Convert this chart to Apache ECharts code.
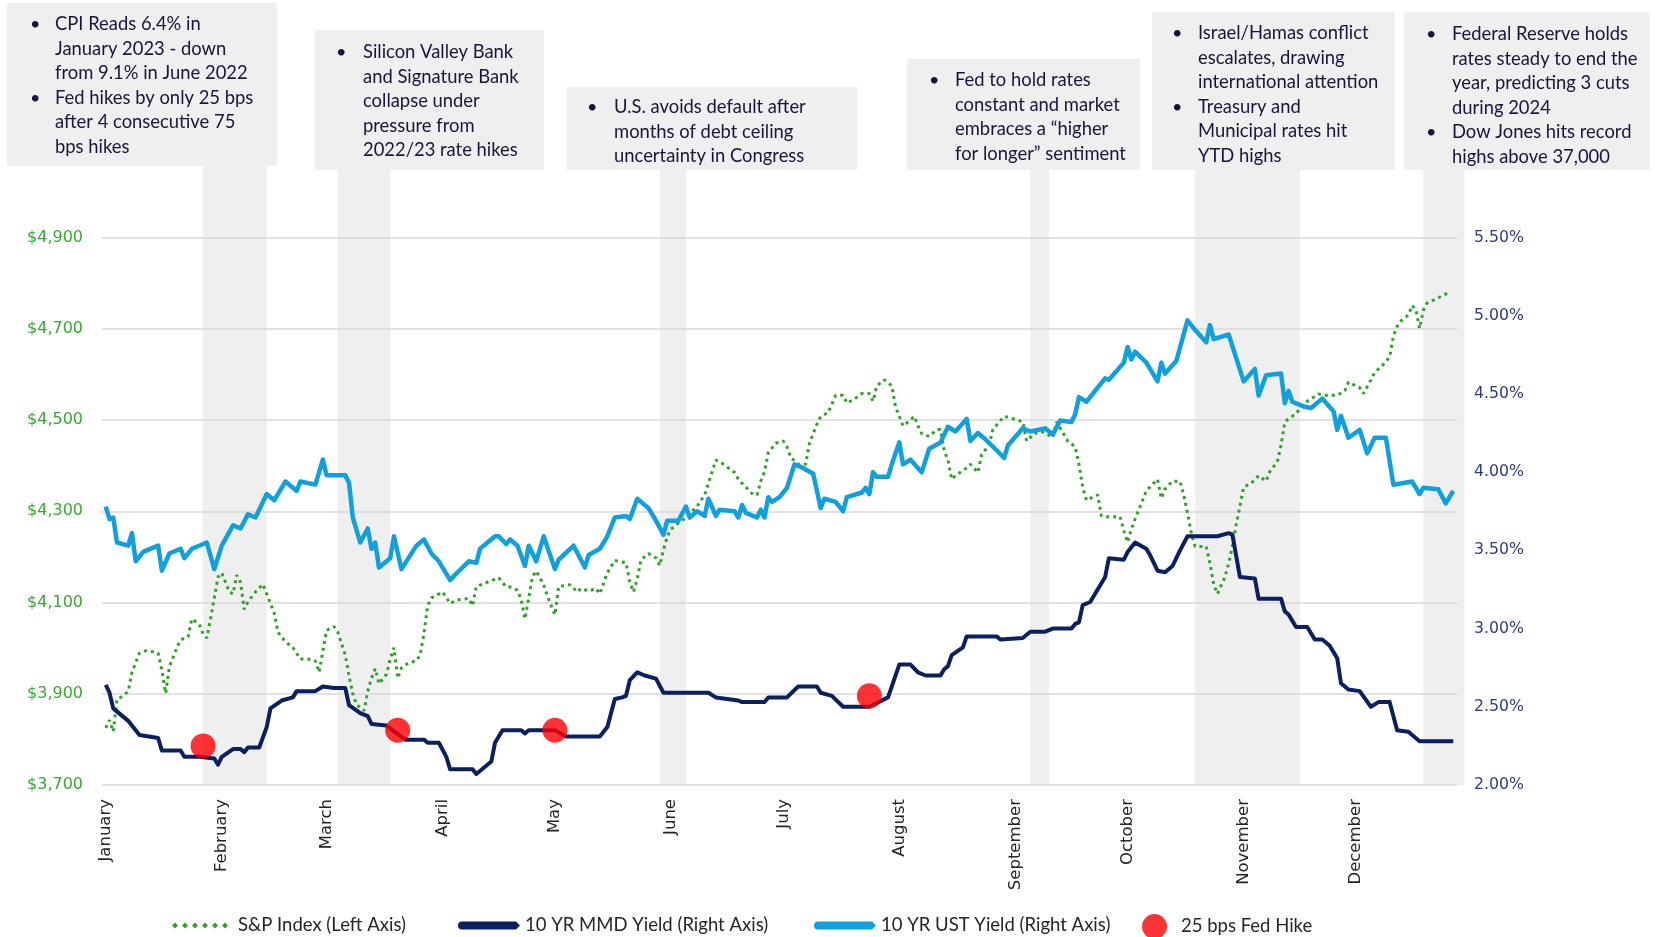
<!DOCTYPE html>
<html>
<head>
<meta charset="utf-8">
<script src="https://cdn.jsdelivr.net/npm/echarts@6/dist/echarts.min.js"></script>
<style>
  html, body { margin: 0; padding: 0; background: #fff; }
  #chart { width: 1655px; height: 937px; }
</style>
</head>
<body>
<div id="chart"></div>
<script>
var monthNames = ['January', 'February', 'March', 'April', 'May', 'June', 'July',
    'August', 'September', 'October', 'November', 'December'];

// S&P 500 index (left axis)
var spIndex = [
    ['2023-01-01', 3825], ['2023-01-02', 3842], ['2023-01-03', 3817], ['2023-01-04', 3888], ['2023-01-05', 3892],
    ['2023-01-07', 3905], ['2023-01-08', 3947], ['2023-01-10', 3989], ['2023-01-12', 3995], ['2023-01-15', 3989],
    ['2023-01-16', 3951], ['2023-01-17', 3901], ['2023-01-18', 3959], ['2023-01-19', 3980], ['2023-01-20', 4001],
    ['2023-01-21', 4018], ['2023-01-23', 4025], ['2023-01-24', 4064], ['2023-01-26', 4052], ['2023-01-27', 4031],
    ['2023-01-28', 4022], ['2023-01-29', 4064], ['2023-01-30', 4110], ['2023-01-31', 4156], ['2023-02-01', 4165],
    ['2023-02-03', 4123], ['2023-02-04', 4119], ['2023-02-05', 4160], ['2023-02-06', 4144], ['2023-02-07', 4085],
    ['2023-02-08', 4102], ['2023-02-10', 4123], ['2023-02-12', 4140], ['2023-02-13', 4119], ['2023-02-15', 4077],
    ['2023-02-16', 4035], ['2023-02-18', 4014], ['2023-02-20', 4001], ['2023-02-22', 3976], ['2023-02-24', 3976],
    ['2023-02-26', 3972], ['2023-02-27', 3947], ['2023-02-28', 3993], ['2023-03-01', 4039], ['2023-03-03', 4047],
    ['2023-03-04', 4035], ['2023-03-05', 4010], ['2023-03-06', 3985], ['2023-03-07', 3939], ['2023-03-08', 3900],
    ['2023-03-09', 3876], ['2023-03-11', 3863], ['2023-03-12', 3905], ['2023-03-13', 3934], ['2023-03-14', 3955],
    ['2023-03-15', 3922], ['2023-03-17', 3943], ['2023-03-18', 3976], ['2023-03-19', 4001], ['2023-03-20', 3934],
    ['2023-03-21', 3957], ['2023-03-23', 3968], ['2023-03-25', 3972], ['2023-03-26', 3985], ['2023-03-27', 4031],
    ['2023-03-28', 4093], ['2023-03-29', 4110], ['2023-04-01', 4123], ['2023-04-03', 4098], ['2023-04-05', 4106],
    ['2023-04-08', 4109], ['2023-04-09', 4093], ['2023-04-10', 4135], ['2023-04-14', 4148], ['2023-04-16', 4154],
    ['2023-04-18', 4134], ['2023-04-19', 4134], ['2023-04-21', 4127], ['2023-04-22', 4106], ['2023-04-23', 4064],
    ['2023-04-24', 4110], ['2023-04-25', 4156], ['2023-04-26', 4169], ['2023-04-28', 4139], ['2023-04-29', 4114],
    ['2023-04-30', 4093], ['2023-05-01', 4073], ['2023-05-02', 4135], ['2023-05-05', 4139], ['2023-05-07', 4123],
    ['2023-05-08', 4131], ['2023-05-10', 4125], ['2023-05-12', 4131], ['2023-05-13', 4119], ['2023-05-15', 4165],
    ['2023-05-17', 4192], ['2023-05-20', 4187], ['2023-05-21', 4144], ['2023-05-22', 4123], ['2023-05-23', 4152],
    ['2023-05-24', 4194], ['2023-05-26', 4207], ['2023-05-28', 4198], ['2023-05-29', 4181], ['2023-05-30', 4215],
    ['2023-05-31', 4244], ['2023-06-01', 4261], ['2023-06-03', 4274], ['2023-06-05', 4286], ['2023-06-08', 4311],
    ['2023-06-10', 4336], ['2023-06-11', 4361], ['2023-06-13', 4412], ['2023-06-14', 4409], ['2023-06-16', 4397],
    ['2023-06-18', 4385], ['2023-06-19', 4370], ['2023-06-21', 4353], ['2023-06-23', 4336], ['2023-06-24', 4336],
    ['2023-06-25', 4366], ['2023-06-26', 4387], ['2023-06-27', 4428], ['2023-06-29', 4449], ['2023-07-01', 4454],
    ['2023-07-02', 4441], ['2023-07-03', 4418], ['2023-07-05', 4403], ['2023-07-07', 4403], ['2023-07-08', 4449],
    ['2023-07-09', 4470], ['2023-07-10', 4491], ['2023-07-11', 4508], ['2023-07-13', 4516], ['2023-07-15', 4554],
    ['2023-07-17', 4554], ['2023-07-18', 4537], ['2023-07-20', 4546], ['2023-07-22', 4558], ['2023-07-24', 4558],
    ['2023-07-25', 4541], ['2023-07-26', 4575], ['2023-07-28', 4588], ['2023-07-30', 4575], ['2023-07-31', 4529],
    ['2023-08-01', 4508], ['2023-08-02', 4487], ['2023-08-04', 4500], ['2023-08-05', 4508], ['2023-08-06', 4487],
    ['2023-08-07', 4470], ['2023-08-09', 4464], ['2023-08-11', 4479], ['2023-08-12', 4479], ['2023-08-13', 4433],
    ['2023-08-14', 4412], ['2023-08-15', 4370], ['2023-08-16', 4378], ['2023-08-19', 4395], ['2023-08-20', 4403],
    ['2023-08-22', 4385], ['2023-08-23', 4424], ['2023-08-25', 4445], ['2023-08-26', 4479], ['2023-08-29', 4508],
    ['2023-08-31', 4504], ['2023-09-03', 4496], ['2023-09-04', 4454], ['2023-09-06', 4470], ['2023-09-08', 4475],
    ['2023-09-11', 4462], ['2023-09-12', 4496], ['2023-09-15', 4454], ['2023-09-17', 4441], ['2023-09-18', 4403],
    ['2023-09-19', 4353], ['2023-09-20', 4324], ['2023-09-23', 4336], ['2023-09-24', 4290], ['2023-09-25', 4288],
    ['2023-09-29', 4288], ['2023-09-30', 4257], ['2023-10-01', 4232], ['2023-10-02', 4261], ['2023-10-03', 4283],
    ['2023-10-05', 4324], ['2023-10-06', 4345], ['2023-10-09', 4370], ['2023-10-10', 4328], ['2023-10-11', 4349],
    ['2023-10-13', 4366], ['2023-10-15', 4366], ['2023-10-16', 4336], ['2023-10-17', 4296], ['2023-10-18', 4253],
    ['2023-10-19', 4223], ['2023-10-22', 4223], ['2023-10-23', 4186], ['2023-10-24', 4140], ['2023-10-25', 4119],
    ['2023-10-27', 4156], ['2023-10-28', 4186], ['2023-10-29', 4223], ['2023-10-30', 4270], ['2023-10-31', 4311],
    ['2023-11-01', 4353], ['2023-11-03', 4361], ['2023-11-05', 4378], ['2023-11-07', 4366], ['2023-11-08', 4387],
    ['2023-11-10', 4408], ['2023-11-11', 4445], ['2023-11-12', 4496], ['2023-11-14', 4508], ['2023-11-16', 4523],
    ['2023-11-18', 4541], ['2023-11-21', 4557], ['2023-11-23', 4554], ['2023-11-26', 4554], ['2023-11-28', 4564],
    ['2023-11-29', 4583], ['2023-12-02', 4571], ['2023-12-03', 4558], ['2023-12-05', 4588], ['2023-12-06', 4604],
    ['2023-12-08', 4619], ['2023-12-10', 4638], ['2023-12-11', 4684], ['2023-12-12', 4705], ['2023-12-13', 4717],
    ['2023-12-15', 4730], ['2023-12-16', 4751], ['2023-12-17', 4742], ['2023-12-18', 4701], ['2023-12-19', 4740],
    ['2023-12-20', 4756], ['2023-12-23', 4768], ['2023-12-26', 4780]
];

// 10 YR MMD yield, % (right axis)
var mmdYield = [
    ['2023-01-01', 2.64], ['2023-01-02', 2.59], ['2023-01-03', 2.49], ['2023-01-07', 2.41], ['2023-01-08', 2.38],
    ['2023-01-10', 2.32], ['2023-01-15', 2.30], ['2023-01-16', 2.22], ['2023-01-21', 2.22], ['2023-01-22', 2.18],
    ['2023-01-26', 2.18], ['2023-01-30', 2.17], ['2023-01-31', 2.13], ['2023-02-01', 2.18], ['2023-02-04', 2.23],
    ['2023-02-06', 2.23], ['2023-02-07', 2.21], ['2023-02-08', 2.24], ['2023-02-11', 2.24], ['2023-02-13', 2.37],
    ['2023-02-14', 2.49], ['2023-02-17', 2.54], ['2023-02-20', 2.56], ['2023-02-21', 2.60], ['2023-02-26', 2.60],
    ['2023-02-28', 2.63], ['2023-03-03', 2.62], ['2023-03-06', 2.62], ['2023-03-07', 2.51], ['2023-03-10', 2.46],
    ['2023-03-12', 2.44], ['2023-03-13', 2.39], ['2023-03-17', 2.38], ['2023-03-22', 2.29], ['2023-03-27', 2.29],
    ['2023-03-28', 2.27], ['2023-03-31', 2.27], ['2023-04-02', 2.18], ['2023-04-03', 2.10], ['2023-04-09', 2.10],
    ['2023-04-10', 2.07], ['2023-04-12', 2.11], ['2023-04-14', 2.15], ['2023-04-15', 2.27], ['2023-04-17', 2.35],
    ['2023-04-22', 2.35], ['2023-04-23', 2.33], ['2023-04-24', 2.35], ['2023-05-01', 2.35], ['2023-05-04', 2.31],
    ['2023-05-13', 2.31], ['2023-05-15', 2.37], ['2023-05-17', 2.55], ['2023-05-19', 2.56], ['2023-05-20', 2.57],
    ['2023-05-21', 2.67], ['2023-05-23', 2.72], ['2023-05-25', 2.70], ['2023-05-28', 2.68], ['2023-05-30', 2.59],
    ['2023-06-11', 2.59], ['2023-06-13', 2.56], ['2023-06-16', 2.55], ['2023-06-19', 2.54], ['2023-06-20', 2.53],
    ['2023-06-26', 2.53], ['2023-06-27', 2.56], ['2023-07-02', 2.56], ['2023-07-05', 2.63], ['2023-07-10', 2.63],
    ['2023-07-11', 2.59], ['2023-07-14', 2.57], ['2023-07-17', 2.50], ['2023-07-24', 2.50], ['2023-07-29', 2.56],
    ['2023-08-01', 2.77], ['2023-08-04', 2.77], ['2023-08-06', 2.72], ['2023-08-08', 2.70], ['2023-08-12', 2.70],
    ['2023-08-13', 2.74], ['2023-08-14', 2.76], ['2023-08-15', 2.83], ['2023-08-18', 2.88], ['2023-08-19', 2.95],
    ['2023-08-27', 2.95], ['2023-08-28', 2.93], ['2023-09-03', 2.94], ['2023-09-05', 2.98], ['2023-09-09', 2.98],
    ['2023-09-11', 3.00], ['2023-09-16', 3.00], ['2023-09-17', 3.03], ['2023-09-18', 3.04], ['2023-09-19', 3.15],
    ['2023-09-21', 3.17], ['2023-09-23', 3.25], ['2023-09-25', 3.33], ['2023-09-26', 3.45], ['2023-09-30', 3.44],
    ['2023-10-01', 3.49], ['2023-10-03', 3.55], ['2023-10-06', 3.51], ['2023-10-07', 3.47], ['2023-10-09', 3.37],
    ['2023-10-11', 3.36], ['2023-10-13', 3.40], ['2023-10-15', 3.50], ['2023-10-17', 3.59], ['2023-10-25', 3.59],
    ['2023-10-28', 3.61], ['2023-10-29', 3.60], ['2023-10-31', 3.33], ['2023-11-04', 3.32], ['2023-11-05', 3.19],
    ['2023-11-11', 3.19], ['2023-11-12', 3.11], ['2023-11-13', 3.09], ['2023-11-15', 3.01], ['2023-11-18', 3.01],
    ['2023-11-20', 2.93], ['2023-11-22', 2.93], ['2023-11-24', 2.89], ['2023-11-26', 2.81], ['2023-11-27', 2.65],
    ['2023-11-29', 2.61], ['2023-12-02', 2.60], ['2023-12-05', 2.50], ['2023-12-07', 2.53], ['2023-12-10', 2.53],
    ['2023-12-12', 2.35], ['2023-12-15', 2.34], ['2023-12-18', 2.28], ['2023-12-27', 2.28]
];

// 10 YR UST yield, % (right axis)
var ustYield = [
    ['2023-01-01', 3.78], ['2023-01-02', 3.70], ['2023-01-03', 3.71], ['2023-01-04', 3.55], ['2023-01-07', 3.53],
    ['2023-01-08', 3.61], ['2023-01-09', 3.43], ['2023-01-11', 3.49], ['2023-01-15', 3.53], ['2023-01-16', 3.37],
    ['2023-01-18', 3.48], ['2023-01-21', 3.51], ['2023-01-22', 3.45], ['2023-01-24', 3.51], ['2023-01-28', 3.55],
    ['2023-01-30', 3.38], ['2023-02-01', 3.53], ['2023-02-04', 3.66], ['2023-02-06', 3.64], ['2023-02-08', 3.73],
    ['2023-02-10', 3.71], ['2023-02-13', 3.86], ['2023-02-15', 3.82], ['2023-02-18', 3.94], ['2023-02-21', 3.88],
    ['2023-02-22', 3.94], ['2023-02-26', 3.92], ['2023-02-28', 4.08], ['2023-03-01', 3.98], ['2023-03-06', 3.98],
    ['2023-03-07', 3.93], ['2023-03-08', 3.71], ['2023-03-10', 3.55], ['2023-03-12', 3.64], ['2023-03-13', 3.51],
    ['2023-03-14', 3.55], ['2023-03-15', 3.39], ['2023-03-18', 3.45], ['2023-03-19', 3.59], ['2023-03-21', 3.38],
    ['2023-03-25', 3.53], ['2023-03-27', 3.57], ['2023-03-29', 3.48], ['2023-03-31', 3.43], ['2023-04-03', 3.31],
    ['2023-04-05', 3.36], ['2023-04-08', 3.43], ['2023-04-10', 3.42], ['2023-04-11', 3.51], ['2023-04-15', 3.59],
    ['2023-04-16', 3.59], ['2023-04-18', 3.54], ['2023-04-19', 3.57], ['2023-04-21', 3.53], ['2023-04-23', 3.40],
    ['2023-04-24', 3.53], ['2023-04-26', 3.43], ['2023-04-28', 3.59], ['2023-05-01', 3.38], ['2023-05-02', 3.44],
    ['2023-05-06', 3.53], ['2023-05-09', 3.39], ['2023-05-10', 3.47], ['2023-05-13', 3.51], ['2023-05-15', 3.59],
    ['2023-05-17', 3.71], ['2023-05-20', 3.72], ['2023-05-21', 3.70], ['2023-05-23', 3.83], ['2023-05-26', 3.77],
    ['2023-05-28', 3.69], ['2023-05-30', 3.60], ['2023-05-31', 3.69], ['2023-06-03', 3.69], ['2023-06-05', 3.78],
    ['2023-06-06', 3.71], ['2023-06-08', 3.75], ['2023-06-10', 3.72], ['2023-06-11', 3.83], ['2023-06-13', 3.72],
    ['2023-06-14', 3.76], ['2023-06-18', 3.75], ['2023-06-19', 3.71], ['2023-06-20', 3.79], ['2023-06-21', 3.74],
    ['2023-06-24', 3.71], ['2023-06-25', 3.76], ['2023-06-26', 3.71], ['2023-06-27', 3.84], ['2023-06-28', 3.81],
    ['2023-06-30', 3.84], ['2023-07-02', 3.90], ['2023-07-04', 4.05], ['2023-07-06', 4.03], ['2023-07-09', 3.99],
    ['2023-07-11', 3.77], ['2023-07-12', 3.83], ['2023-07-15', 3.81], ['2023-07-17', 3.75], ['2023-07-18', 3.84],
    ['2023-07-22', 3.87], ['2023-07-23', 3.90], ['2023-07-24', 3.86], ['2023-07-25', 4.00], ['2023-07-26', 3.97],
    ['2023-07-29', 3.97], ['2023-07-30', 4.05], ['2023-08-01', 4.19], ['2023-08-02', 4.05], ['2023-08-04', 4.08],
    ['2023-08-07', 4.00], ['2023-08-09', 4.15], ['2023-08-12', 4.19], ['2023-08-14', 4.29], ['2023-08-16', 4.26],
    ['2023-08-19', 4.34], ['2023-08-20', 4.20], ['2023-08-22', 4.25], ['2023-08-24', 4.21], ['2023-08-27', 4.14],
    ['2023-08-29', 4.09], ['2023-08-30', 4.17], ['2023-09-03', 4.28], ['2023-09-05', 4.26], ['2023-09-09', 4.28],
    ['2023-09-11', 4.24], ['2023-09-13', 4.33], ['2023-09-16', 4.32], ['2023-09-17', 4.37], ['2023-09-18', 4.48],
    ['2023-09-20', 4.45], ['2023-09-23', 4.54], ['2023-09-25', 4.60], ['2023-09-26', 4.59], ['2023-09-30', 4.70],
    ['2023-10-01', 4.80], ['2023-10-02', 4.72], ['2023-10-03', 4.77], ['2023-10-06', 4.70], ['2023-10-09', 4.58],
    ['2023-10-10', 4.70], ['2023-10-11', 4.63], ['2023-10-14', 4.71], ['2023-10-17', 4.97], ['2023-10-19', 4.91],
    ['2023-10-22', 4.83], ['2023-10-23', 4.94], ['2023-10-24', 4.85], ['2023-10-28', 4.88], ['2023-11-01', 4.58],
    ['2023-11-04', 4.66], ['2023-11-05', 4.49], ['2023-11-07', 4.62], ['2023-11-11', 4.63], ['2023-11-12', 4.44],
    ['2023-11-13', 4.52], ['2023-11-14', 4.45], ['2023-11-17', 4.42], ['2023-11-19', 4.41], ['2023-11-22', 4.47],
    ['2023-11-25', 4.39], ['2023-11-26', 4.27], ['2023-11-27', 4.36], ['2023-11-29', 4.22], ['2023-12-02', 4.27],
    ['2023-12-04', 4.12], ['2023-12-06', 4.22], ['2023-12-09', 4.22], ['2023-12-11', 3.92], ['2023-12-16', 3.94],
    ['2023-12-18', 3.86], ['2023-12-19', 3.90], ['2023-12-23', 3.89], ['2023-12-25', 3.80], ['2023-12-27', 3.88]
];

// 25 bps Fed hikes, plotted on the right axis
var fedHikes = [['2023-01-27', 2.25], ['2023-03-20', 2.35], ['2023-05-01', 2.35], ['2023-07-24', 2.57]];

// grey event bands (date ranges) under the note boxes
var eventBands = [
    ['2023-01-27', '2023-02-13'], ['2023-03-04', '2023-03-18'], ['2023-05-29', '2023-06-05'],
    ['2023-09-05', '2023-09-10'], ['2023-10-19', '2023-11-16'], ['2023-12-19', '2023-12-30']
];

var notes = [
    { box: [7, 3, 270, 163], tx: 55, bx: 30, y0: 24, bullets: [0, 3],
      lines: ['CPI Reads 6.4% in', 'January 2023 - down', 'from 9.1% in June 2022',
              'Fed hikes by only 25 bps', 'after 4 consecutive 75', 'bps hikes'] },
    { box: [315, 30, 229, 140], tx: 363, bx: 336, y0: 52, bullets: [0],
      lines: ['Silicon Valley Bank', 'and Signature Bank', 'collapse under', 'pressure from', '2022/23 rate hikes'] },
    { box: [567, 87, 290, 83], tx: 614, bx: 587, y0: 107, bullets: [0],
      lines: ['U.S. avoids default after', 'months of debt ceiling', 'uncertainty in Congress'] },
    { box: [907, 59, 233, 111], tx: 955, bx: 929, y0: 80, bullets: [0],
      lines: ['Fed to hold rates', 'constant and market', 'embraces a \u201chigher', 'for longer\u201d sentiment'] },
    { box: [1152, 12, 243, 158], tx: 1198, bx: 1172, y0: 33, bullets: [0, 3],
      lines: ['Israel/Hamas conflict', 'escalates, drawing', 'international attention',
              'Treasury and', 'Municipal rates hit', 'YTD highs'] },
    { box: [1404, 12, 246, 158], tx: 1452, bx: 1426, y0: 34, bullets: [0, 4],
      lines: ['Federal Reserve holds', 'rates steady to end the', 'year, predicting 3 cuts',
              'during 2024', 'Dow Jones hits record', 'highs above 37,000'] }
];

function localDay(s) {
    var p = s.split('-');
    return new Date(+p[0], +p[1] - 1, +p[2]).getTime();
}

var GREEN = '#33a02c', NAVY = '#0c1f5e', BLUE = '#12a0dc', RED = '#ff0000';
var legendText = { fontFamily: 'Lato', fontSize: 18.5, color: '#262626' };
var dotsIcon = 'path://M0,3L3,0L6,3L3,6Z M10,3L13,0L16,3L13,6Z M20,3L23,0L26,3L23,6Z ' +
    'M30,3L33,0L36,3L33,6Z M40,3L43,0L46,3L43,6Z M50,3L53,0L56,3L53,6Z';
var barIcon = 'path://M4,0L58,0L62,4L58,8L4,8A4,4,0,0,1,4,0Z';

var chart = echarts.init(document.getElementById('chart'));
chart.setOption({
    animation: false,
    backgroundColor: '#fff',
    grid: { left: 102, right: 198, top: 237.5, bottom: 152 },
    legend: [
        { left: 172, top: 916, padding: 0, selectedMode: false, itemWidth: 56, itemHeight: 6,
          textStyle: Object.assign({ padding: [0, 0, 0, 5] }, legendText),
          data: [{ name: 'S&P Index (Left Axis)', icon: dotsIcon, itemStyle: { color: GREEN }, lineStyle: { width: 0 } }] },
        { left: 458, top: 916, padding: 0, selectedMode: false, itemWidth: 62, itemHeight: 8, textStyle: legendText,
          data: [{ name: '10 YR MMD Yield (Right Axis)', icon: barIcon, itemStyle: { color: NAVY }, lineStyle: { width: 0 } }] },
        { left: 814, top: 916, padding: 0, selectedMode: false, itemWidth: 62, itemHeight: 8, textStyle: legendText,
          data: [{ name: '10 YR UST Yield (Right Axis)', icon: barIcon, itemStyle: { color: BLUE }, lineStyle: { width: 0 } }] },
        { left: 1142, top: 914, padding: 0, selectedMode: false, itemWidth: 43, itemHeight: 25, textStyle: legendText,
          data: [{ name: '25 bps Fed Hike', icon: 'circle', itemStyle: { color: RED } }] }
    ],
    xAxis: {
        type: 'time',
        min: localDay('2022-12-31'),
        max: localDay('2023-12-28'),
        splitNumber: 12,
        axisLine: { show: false },
        axisTick: { show: false },
        splitLine: { show: false },
        axisLabel: {
            rotate: 90, margin: 14, color: '#262626', fontFamily: 'DejaVu Sans', fontSize: 16.5,
            formatter: function (v) {
                var d = new Date(v);
                return d.getDate() === 1 ? monthNames[d.getMonth()] : '';
            }
        }
    },
    yAxis: [
        {
            type: 'value', min: 3700, max: 4900, interval: 200,
            axisLine: { show: false }, axisTick: { show: false },
            splitLine: { lineStyle: { color: '#d9d9d9', width: 1.5 } },
            axisLabel: {
                margin: 19, color: '#3aa635', fontFamily: 'DejaVu Sans', fontSize: 16,
                formatter: function (v) { return '$' + v.toLocaleString('en-US'); }
            }
        },
        {
            type: 'value', min: 2, max: 5.5, interval: 0.5, position: 'right',
            axisLine: { show: false }, axisTick: { show: false }, splitLine: { show: false },
            axisLabel: {
                margin: 17, color: '#2e3a80', fontFamily: 'DejaVu Sans', fontSize: 15.7,
                formatter: function (v) { return v.toFixed(2) + '%'; }
            }
        }
    ],
    series: [
        {
            name: 'S&P Index (Left Axis)', type: 'line', yAxisIndex: 0, data: spIndex,
            symbol: 'none', lineStyle: { color: GREEN, width: 3, type: [3, 4] }, itemStyle: { color: GREEN }
        },
        {
            name: '10 YR MMD Yield (Right Axis)', type: 'line', yAxisIndex: 1, data: mmdYield,
            symbol: 'none', lineStyle: { color: NAVY, width: 4, join: 'round' }, itemStyle: { color: NAVY }
        },
        {
            name: '10 YR UST Yield (Right Axis)', type: 'line', yAxisIndex: 1, data: ustYield,
            symbol: 'none', lineStyle: { color: BLUE, width: 4.5, join: 'round' }, itemStyle: { color: BLUE }
        },
        {
            name: '25 bps Fed Hike', type: 'scatter', yAxisIndex: 1, data: fedHikes,
            symbolSize: 25, itemStyle: { color: RED }, z: 5
        }
    ]
});

// note boxes, bullets and the grey bands that drop from them
var graphics = [];
eventBands.forEach(function (b) {
    var x0 = chart.convertToPixel({ xAxisIndex: 0 }, localDay(b[0]));
    var x1 = chart.convertToPixel({ xAxisIndex: 0 }, localDay(b[1]));
    graphics.push({ type: 'rect', z: -10, silent: true,
        shape: { x: x0, y: 165, width: x1 - x0, height: 785 - 165 }, style: { fill: '#efefef' } });
});
notes.forEach(function (n) {
    graphics.push({ type: 'rect', z: -10, silent: true,
        shape: { x: n.box[0], y: n.box[1], width: n.box[2], height: n.box[3] }, style: { fill: '#efefef' } });
    n.lines.forEach(function (line, i) {
        var y = n.y0 + i * 24.6;
        graphics.push({ type: 'text', x: n.tx, y: y, silent: true,
            style: { text: line, font: '18.4px Lato', fill: '#16163a', verticalAlign: 'middle' } });
        if (n.bullets.indexOf(i) >= 0) {
            graphics.push({ type: 'text', x: n.bx, y: y, silent: true,
                style: { text: '\u2022', font: '18px Lato', fill: '#16163a', verticalAlign: 'middle' } });
        }
    });
});
chart.setOption({ graphic: graphics });
</script>
</body>
</html>
